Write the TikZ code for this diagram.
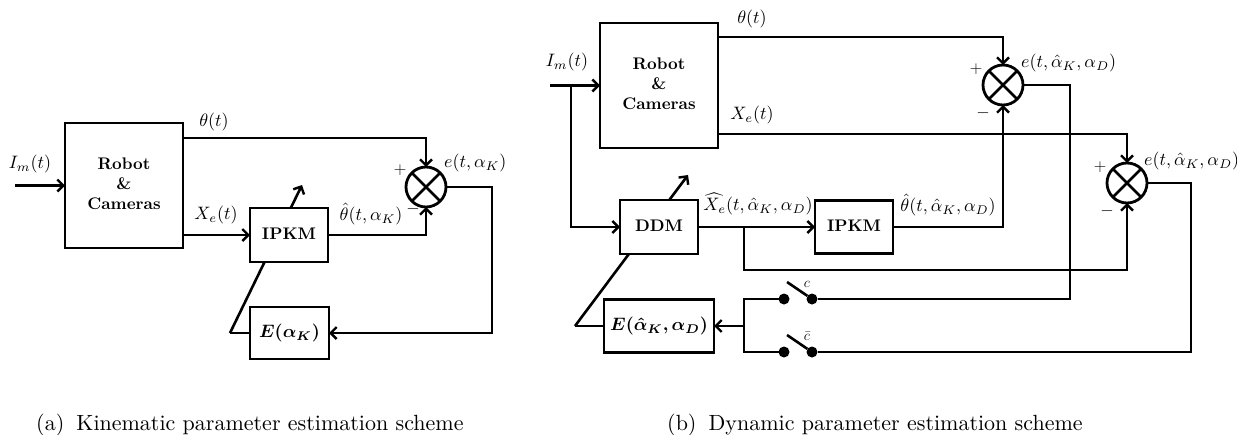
\documentclass[tikz,border=0pt]{standalone}
\usepackage{amsmath,bm,graphicx}
\usetikzlibrary{arrows.meta,calc}
\newcommand{\myblk}[1]{\scalebox{1.68}{\bfseries\begin{tabular}{@{}c@{}}#1\end{tabular}}}
\newcommand{\mym}[1]{\scalebox{1.8}{$#1$}}
\newcommand{\mycap}[1]{\scalebox{2.2}{#1}}
\begin{document}
\begin{tikzpicture}[x=1pt,y=-1pt,
  ln/.style={line width=2.6pt},
  arr/.style={line width=2.6pt,-{Straight Barb[length=6pt,width=12pt,line width=2.4pt]}},
  blk/.style={draw,line width=2.6pt,fill=white,inner sep=0pt,outer sep=0pt,align=center},
  summer/.style={draw,circle,line width=2.8pt,minimum size=40pt,inner sep=0pt,outer sep=0pt,fill=white,
    path picture={\draw[line width=2.8pt] (path picture bounding box.north west)--(path picture bounding box.south east)
      (path picture bounding box.north east)--(path picture bounding box.south west);}},
  lbl/.style={inner sep=0pt},
  sgn/.style={inner sep=0pt,font=\fontsize{16}{18}\selectfont},
  sw/.style={inner sep=0pt,font=\fontsize{15}{16}\selectfont},
  dot/.style={circle,fill,inner sep=0pt,outer sep=0pt,minimum size=11pt},
  capt/.style={inner sep=0pt,anchor=base west}]
\useasboundingbox (0,0) rectangle (1237,434);

% ---------------- (a) ----------------
\coordinate (a1) at (230,333);
\coordinate (t1) at (302,185);
\draw[arr] (a1) -- (t1);
\node[blk,minimum width=118pt,minimum height=125pt] (rc1) at (124,185.5) {\myblk{Robot\\\&\\Cameras}};
\node[blk,minimum width=78pt,minimum height=54pt] (ipkm1) at (289,235) {\myblk{IPKM}};
\node[blk,minimum width=79pt,minimum height=52pt] (e1) at (289.5,333) {\mym{\bm{E(\alpha_K)}}};
\node[summer] (s1) at (426,187) {};
\coordinate (in1) at (15,185.5);
\coordinate (c1) at (492,333);
\draw[arr] (in1) -- (rc1.west);
\draw[arr] ([yshift=-15pt]rc1.north east) -| (s1.north);
\draw[arr] ([yshift=13pt]rc1.south east) -- (ipkm1.west);
\draw[arr] (ipkm1.east) -| (s1.south);
\draw[arr] (s1.east) -| (c1) -- (e1.east);
\draw[ln] (a1) -- (e1.west);
\node[lbl] (l1) at (30,164) {\mym{I_m(t)}};
\node[lbl] (l2) at (214,122) {\mym{\theta(t)}};
\node[lbl] (l3) at (216,215) {\mym{X_e(t)}};
\node[lbl] (l4) at (371,214) {\mym{\hat{\theta}(t,\alpha_K)}};
\node[sgn] (m1) at (413,209) {$-$};
\node[sgn] (p1) at (400,170) {$+$};
\node[lbl,anchor=west] (l5) at (444,163) {\mym{e(t,\alpha_K)}};

% ---------------- (b) ----------------
\coordinate (a2) at (575,326);
\coordinate (t2) at (688,175);
\draw[arr] (a2) -- (t2);
\node[blk,minimum width=118pt,minimum height=125pt] (rc2) at (659,85.5) {\myblk{Robot\\\&\\Cameras}};
\node[blk,minimum width=78pt,minimum height=54pt] (ddm) at (659,227) {\myblk{DDM}};
\node[blk,minimum width=78pt,minimum height=53pt] (ipkm2) at (854,227) {\myblk{IPKM}};
\node[blk,minimum width=110pt,minimum height=53pt] (e2) at (659,326) {\mym{\bm{E(\hat{\alpha}_K,\alpha_D)}}};
\node[summer] (s2a) at (1003,85) {};
\node[summer] (s2b) at (1127,183) {};
\node[dot] (swcL) at (784,299) {};
\node[dot] (swcR) at (812,299) {};
\node[dot] (swbL) at (784,352) {};
\node[dot] (swbR) at (812,352) {};
\coordinate (in2) at (550,85.5);
\coordinate (j1) at (571,85.5);
\coordinate (j2) at (744,227);
\coordinate (k2) at (744,270);
\coordinate (c2) at (1070,299);
\coordinate (c3) at (1191,352);
\coordinate (j3) at (744,326);
\coordinate (j3b) at (744,352);
\coordinate (bc) at (787,282);
\coordinate (bb) at (787,335);
\draw[arr] (in2) -- (rc2.west);
\draw[arr] (j1) |- (ddm.west);
\draw[arr] ([yshift=-14pt]rc2.north east) -| (s2a.north);
\draw[arr] ([yshift=14pt]rc2.south east) -| (s2b.north);
\draw[arr] (ddm.east) -- (ipkm2.west);
\draw[arr] (j2) -- (k2) -| (s2b.south);
\draw[arr] (ipkm2.east) -| (s2a.south);
\draw[ln] (s2a.east) -| (c2) -- (swcR);
\draw[ln] (s2b.east) -| (c3) -- (swbR);
\draw[ln] (bc) -- (swcR);
\draw[ln] (bb) -- (swbR);
\draw[ln] (swcL) -| (j3b) -- (swbL);
\draw[arr] (j3) -- (e2.east);
\draw[ln] (a2) -- (e2.west);
\node[lbl] (r1) at (567,62) {\mym{I_m(t)}};
\node[lbl] (r2) at (752,19) {\mym{\theta(t)}};
\node[lbl] (r3) at (752,115) {\mym{X_e(t)}};
\node[lbl] (r4) at (758,204) {\mym{\widehat{X_e}(t,\hat{\alpha}_K,\alpha_D)}};
\node[lbl] (r5) at (948,205) {\mym{\hat{\theta}(t,\hat{\alpha}_K,\alpha_D)}};
\node[sgn] (p2) at (976,69) {$+$};
\node[sgn] (m2) at (983,113) {$-$};
\node[lbl,anchor=west] (r6) at (1021,63) {\mym{e(t,\hat{\alpha}_K,\alpha_D)}};
\node[sgn] (p3) at (1100,167) {$+$};
\node[sgn] (m3) at (1107,211) {$-$};
\node[lbl,anchor=west] (r7) at (1144,161) {\mym{e(t,\hat{\alpha}_K,\alpha_D)}};
\node[sw] (sc) at (807,284) {$c$};
\node[sw] (sb) at (807,336) {$\bar{c}$};

% captions
\node[capt] (ca) at (36,430) {\mycap{(a)\hspace{0.55em}Kinematic parameter estimation scheme}};
\node[capt] (cb) at (667,430) {\mycap{(b)\hspace{0.55em}Dynamic parameter estimation scheme}};
\end{tikzpicture}
\end{document}
